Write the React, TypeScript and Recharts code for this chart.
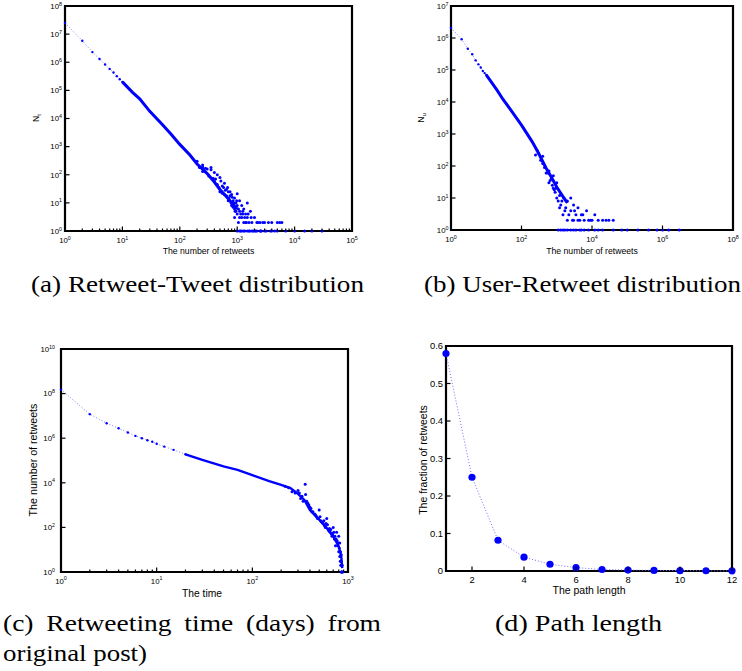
import React from 'react';
import { ComposedChart, Line, Scatter, XAxis, YAxis, ReferenceArea } from 'recharts';

const BLUE = '#0000ff';
const DOTTED = '#6f6fff';
const SANS = '"Liberation Sans", Arial, Helvetica, sans-serif';
const SERIF = '"Liberation Serif", "Times New Roman", serif';

// (a) Retweet-Tweet distribution
const aSparseX = [1, 2, 3, 4, 5, 6, 7, 8, 9, 10];
const aSparseY = [2.5e7, 5.8e6, 2.3e6, 1.3e6, 8.3e5, 5.8e5, 4.3e5, 3.2e5, 2.5e5, 2.0e5];
const aBandX = [10, 15, 20, 30, 50, 70, 100, 150, 200, 300, 400, 500, 700, 1000];
const aBandY = [2.0e5, 8.5e4, 5.0e4, 1.8e4, 6.0e3, 2.8e3, 1.2e3, 500, 240, 110, 55, 30, 14, 6];
const aCloudX = [250, 250, 300, 350, 400, 400, 450, 500, 500, 550, 600, 600, 650, 700, 700, 750, 800, 800, 850, 900, 900, 900, 950, 950,
  1000, 1000, 1000, 1050, 1100, 1100, 1100, 1150, 1200, 1200, 1250, 1300, 1300, 1350, 1400, 1400, 1500, 1500, 1600, 1700, 1800,
  2000, 2200, 2500, 2800, 3000, 3500, 4000, 5000, 5500, 1200, 1500, 2000, 2500, 3000, 4000, 5000, 7000, 10000, 15000, 20000, 30000,
  200, 220, 250, 280, 320, 350, 380, 420, 450, 480, 520, 550, 580, 620, 650, 680, 720, 750, 780, 820, 850, 880, 920, 980,
  1050, 1150, 1250, 1350, 1450, 1550, 1650, 1750, 1900, 2100, 2300, 2600, 3200, 3800, 4500, 6000, 1000, 1100, 1300, 1600, 1800, 2200, 2600];
const aCloudY = [190, 130, 160, 150, 60, 120, 45, 80, 25, 40, 20, 50, 30, 12, 25, 18, 8, 20, 12, 6, 15, 3, 10, 5,
  4, 8, 21, 2, 5, 12, 3, 1, 3, 8, 4, 6, 2, 1, 2, 4, 10, 3, 2, 5, 2,
  3, 2, 2, 2, 2, 2, 2, 2, 2, 1, 1, 1, 1, 1, 1, 1, 1, 1, 1, 1, 1,
  300, 180, 220, 170, 90, 180, 75, 70, 100, 35, 60, 22, 35, 28, 18, 35, 15, 25, 10, 16, 7, 10, 5, 12,
  6, 4, 5, 3, 2, 4, 1, 3, 1, 1, 2, 1, 1, 1, 1, 2, 1, 1, 1, 1, 1, 1, 1];
const aXMajor = [1, 10, 100, 1000, 10000, 100000];
const aYMajor = [1, 10, 100, 1e3, 1e4, 1e5, 1e6, 1e7, 1e8];

// (b) User-Retweet distribution
const bSparseX = [1, 2, 3, 4, 5, 6, 7, 8, 9, 10];
const bSparseY = [2.1e6, 9.1e5, 4.6e5, 3.1e5, 2.0e5, 1.5e5, 1.2e5, 9.3e4, 8.0e4, 7.0e4];
const bBandX = [10, 20, 30, 50, 100, 200, 300, 500, 700, 1000, 1500, 2000];
const bBandY = [7.0e4, 2.4e4, 1.2e4, 5.6e3, 1.9e3, 580, 260, 85, 45, 22, 11, 7];
const bCloudX = [300, 400, 400, 500, 600, 600, 700, 800, 800, 900, 1000, 1000, 1200, 1200, 1400, 1500, 1600, 1800, 2000, 2000,
  2500, 2500, 3000, 3000, 3500, 4000, 4000, 5000, 6000, 7000, 8000, 10000, 12000, 15000, 20000, 25000, 30000, 40000,
  1500, 2000, 3000, 5000, 8000, 12000, 20000, 40000, 70000, 1e5, 2e5, 4e5, 7e5, 1e6, 1.5e6, 3e6,
  250, 280, 350, 450, 550, 650, 750, 850, 950, 1100, 1300, 1700, 2200, 2800, 3200, 4500, 5500, 9000,
  1100, 1300, 1700, 2500, 3500, 4500, 6000, 15000];
const bCloudY = [250, 120, 200, 60, 70, 30, 40, 20, 50, 15, 10, 30, 12, 5, 8, 3, 10, 5, 2, 8,
  4, 10, 2, 6, 3, 2, 5, 3, 2, 4, 2, 2, 3, 2, 2, 2, 2, 2,
  1, 1, 1, 1, 1, 1, 1, 1, 1, 1, 1, 1, 1, 1, 1, 1,
  220, 300, 150, 90, 60, 35, 25, 18, 20, 8, 6, 4, 3, 2, 4, 2, 3, 2,
  1, 1, 1, 1, 1, 1, 1, 1];
const bXMajor = [1, 100, 1e4, 1e6, 1e8];
const bYMajor = [1, 10, 100, 1e3, 1e4, 1e5, 1e6, 1e7];

// (c) Retweeting time (days) from original post
const cSparseX = [1, 2, 3, 4, 5, 6, 7, 8, 9, 10, 12, 15, 20];
const cSparseY = [1.5e8, 1.2e7, 4.7e6, 2.8e6, 1.8e6, 1.27e6, 1.0e6, 8.1e5, 6.9e5, 5.6e5, 4.2e5, 3.0e5, 1.9e5];
const cBandX = [20, 30, 50, 70, 100, 150, 200, 250, 300, 350, 400, 450, 500, 600, 700, 800, 850, 870];
const cBandY = [1.9e5, 1.07e5, 5.4e4, 3.8e4, 2.2e4, 1.2e4, 8.1e3, 5.8e3, 3.2e3, 1.7e3, 600, 350, 220, 93, 40, 14, 5, 1.5];
const cCloudX = [300, 320, 340, 357, 360, 380, 400, 420, 450, 480, 500, 520, 550, 580, 600, 620, 650, 680, 700, 720,
  740, 760, 780, 800, 800, 820, 820, 830, 840, 850, 850, 860, 870, 880,
  220, 240, 260, 280, 310, 330, 370, 390, 410, 430, 460, 470, 490, 510, 530, 560, 570, 590, 610, 630, 640, 660, 670, 690,
  710, 730, 750, 770, 790, 810, 835, 845, 855, 865];
const cCloudY = [4500, 2000, 1500, 8700, 3000, 1200, 800, 500, 400, 250, 600, 200, 150, 100, 250, 80, 60, 40, 100, 30,
  15, 60, 15, 8, 40, 5, 20, 3, 2, 1, 6, 1, 2, 1,
  7000, 6000, 4000, 3500, 3500, 2500, 1500, 1000, 700, 500, 350, 300, 250, 300, 180, 200, 120, 150, 130, 70, 90, 80, 50, 50,
  60, 40, 30, 25, 20, 12, 8, 3, 2, 1];
const cXMajor = [1, 10, 100, 1000];
const cYMajor = [1, 100, 1e4, 1e6, 1e8, 1e10];

// (d) Path length
const dX = [1, 2, 3, 4, 5, 6, 7, 8, 9, 10, 11, 12];
const dY = [0.58, 0.25, 0.082, 0.037, 0.018, 0.009, 0.004, 0.0025, 0.0015, 0.001, 0.0006, 0.0004];
const dXTicks = [2, 4, 6, 8, 10, 12];
const dYTicks = [0, 0.1, 0.2, 0.3, 0.4, 0.5, 0.6];

type Pt = { x: number; y: number };
const zip = (xs: number[], ys: number[]): Pt[] => xs.map((x, i) => ({ x, y: ys[i] }));
const withMinors = (majors: number[]) =>
  majors.concat(majors.slice(0, -1).flatMap((m) => [2, 3, 4, 5, 6, 7, 8, 9].map((k) => k * m)));

// inward MATLAB-style tick marks, labels only on the bottom/left axes
function Tick(props: any) {
  const { x, y, payload, side, log, labels, fs, gap } = props;
  const v = payload.value;
  const e = log ? Math.log10(v) : 0;
  const major = !log || Math.abs(e - Math.round(e)) < 1e-6;
  const len = major ? 4.5 : 2.5;
  const show = labels && labels.some((l: number) => Math.abs(l - v) < 1e-9 * Math.max(1, l));
  const ls = { stroke: '#000', strokeWidth: 1.2 };
  let seg;
  if (side === 'bottom') seg = <line x1={x} x2={x} y1={y} y2={y - len} {...ls} />;
  else if (side === 'top') seg = <line x1={x} x2={x} y1={y} y2={y + len} {...ls} />;
  else if (side === 'left') seg = <line x1={x} x2={x + len} y1={y} y2={y} {...ls} />;
  else seg = <line x1={x} x2={x - len} y1={y} y2={y} {...ls} />;
  const body = log ? (
    <>
      <tspan>10</tspan>
      <tspan dy={-fs * 0.42} fontSize={fs * 0.68}>{Math.round(e)}</tspan>
    </>
  ) : (
    String(v)
  );
  return (
    <g>
      {seg}
      {show && side === 'bottom' && (
        <text x={x} y={y + gap} textAnchor="middle" fontSize={fs} fontFamily={SANS} fill="#000">{body}</text>
      )}
      {show && side === 'left' && (
        <text x={x - gap} y={y + fs * 0.36} textAnchor="end" fontSize={fs} fontFamily={SANS} fill="#000">{body}</text>
      )}
    </g>
  );
}

function Frame(p: any) {
  const common = { type: 'number' as const, interval: 0 as const, tickSize: 0, tickMargin: 0, tickLine: false, axisLine: false };
  const scale = p.log ? 'log' : 'linear';
  return [
    <XAxis key="xb" xAxisId="b" {...common} dataKey="x" scale={scale} domain={p.xDomain} ticks={p.xTicks} height={p.xH}
      tick={<Tick side="bottom" log={p.log} labels={p.xLabels} fs={p.fs} gap={p.xGap} />} />,
    <XAxis key="xt" xAxisId="t" {...common} dataKey="x" orientation="top" scale={scale} domain={p.xDomain} ticks={p.xTicks} height={0}
      tick={<Tick side="top" log={p.log} />} />,
    <YAxis key="yl" yAxisId="l" {...common} dataKey="y" scale={scale} domain={p.yDomain} ticks={p.yTicks} width={p.yW}
      tick={<Tick side="left" log={p.log} labels={p.yLabels} fs={p.fs} gap={p.yGap} />} />,
    <YAxis key="yr" yAxisId="r" {...common} dataKey="y" orientation="right" scale={scale} domain={p.yDomain} ticks={p.yTicks} width={0}
      tick={<Tick side="right" log={p.log} />} />,
    <ReferenceArea key="box" xAxisId="b" yAxisId="l" x1={p.xDomain[0]} x2={p.xDomain[1]} y1={p.yDomain[0]} y2={p.yDomain[1]}
      fill="none" fillOpacity={0} stroke="#000" strokeWidth={2.2} ifOverflow="visible" />,
  ];
}

const smallDot = (r: number) => (s: any) => <circle cx={s.cx} cy={s.cy} r={r} fill={BLUE} />;

function LogPanel(p: any) {
  return (
    <ComposedChart width={p.width} height={p.height} margin={p.margin}>
      {Frame({ ...p, log: true })}
      <Line xAxisId="b" yAxisId="l" data={p.band} dataKey="y" type="linear" stroke={BLUE} strokeWidth={p.bandW}
        dot={false} activeDot={false} isAnimationActive={false} />
      <Line xAxisId="b" yAxisId="l" data={p.sparse} dataKey="y" type="linear" stroke={DOTTED} strokeWidth={0.9}
        strokeDasharray="1 2" dot={{ r: 1.2, fill: BLUE, stroke: 'none', strokeDasharray: '0' }} activeDot={false}
        isAnimationActive={false} />
      <Scatter xAxisId="t" yAxisId="r" data={p.cloud} dataKey="y" shape={smallDot(1.5)} isAnimationActive={false} />
    </ComposedChart>
  );
}

function PathPanel() {
  const pts = zip(dX, dY);
  return (
    <ComposedChart width={371} height={280} margin={{ top: 26, right: 10, bottom: 0, left: 0 }}>
      {Frame({ log: false, xDomain: [1, 12], xTicks: dXTicks, xLabels: dXTicks, xH: 29, yDomain: [0, 0.6], yTicks: dYTicks,
        yLabels: dYTicks, yW: 75, fs: 9.4, xGap: 12, yGap: 3 })}
      <Line xAxisId="b" yAxisId="l" data={pts} dataKey="y" type="linear" stroke={DOTTED} strokeWidth={1}
        strokeDasharray="1 2" dot={false} activeDot={false} isAnimationActive={false} />
      <Scatter xAxisId="t" yAxisId="r" data={pts} dataKey="y" shape={smallDot(3.6)} isAnimationActive={false} />
    </ComposedChart>
  );
}

function Caption({ x, y, w, text, ws = 0 }: { x: number; y: number; w: number; text: string; ws?: number }) {
  return (
    <text x={x} y={y} textLength={w} lengthAdjust="spacingAndGlyphs" fontFamily={SERIF} fontSize={23} fill="#000"
      style={{ wordSpacing: ws }}>{text}</text>
  );
}

export default function App() {
  return (
    <div style={{ position: 'absolute', left: 0, top: 0, width: 742, height: 671, background: '#fff', overflow: 'hidden' }}>
      <div style={{ position: 'absolute', left: 0, top: 0 }}>
        <LogPanel width={371} height={262} margin={{ top: 6, right: 19, bottom: 0, left: 0 }} xH={31} yW={65}
          xDomain={[1, 1e5]} xTicks={withMinors(aXMajor)} xLabels={aXMajor} yDomain={[1, 1e8]} yTicks={aYMajor} yLabels={aYMajor}
          fs={7.8} xGap={12.3} yGap={3} bandW={3}
          sparse={zip(aSparseX, aSparseY)} band={zip(aBandX, aBandY)} cloud={zip(aCloudX, aCloudY)} />
      </div>
      <div style={{ position: 'absolute', left: 371, top: 0 }}>
        <LogPanel width={371} height={262} margin={{ top: 6, right: 9, bottom: 0, left: 0 }} xH={32} yW={80}
          xDomain={[1, 1e8]} xTicks={bXMajor} xLabels={bXMajor} yDomain={[1, 1e7]} yTicks={bYMajor} yLabels={bYMajor}
          fs={7.8} xGap={12.3} yGap={2.5} bandW={3}
          sparse={zip(bSparseX, bSparseY)} band={zip(bBandX, bBandY)} cloud={zip(bCloudX, bCloudY)} />
      </div>
      <div style={{ position: 'absolute', left: 0, top: 320 }}>
        <LogPanel width={371} height={280} margin={{ top: 29, right: 23, bottom: 0, left: 0 }} xH={28} yW={61}
          xDomain={[1, 1e3]} xTicks={withMinors(cXMajor)} xLabels={cXMajor} yDomain={[1, 1e10]} yTicks={cYMajor} yLabels={cYMajor}
          fs={7.8} xGap={11.7} yGap={6} bandW={2.4}
          sparse={zip(cSparseX, cSparseY)} band={zip(cBandX, cBandY)} cloud={zip(cCloudX, cCloudY)} />
      </div>
      <div style={{ position: 'absolute', left: 371, top: 320 }}>
        <PathPanel />
      </div>
      <svg width={742} height={671} style={{ position: 'absolute', left: 0, top: 0, pointerEvents: 'none' }}>
        <g fontFamily={SANS} fill="#000">
          <text x={208.5} y={254} textAnchor="middle" fontSize={8.7}>The number of retweets</text>
          <text x={592} y={254} textAnchor="middle" fontSize={8.7}>The number of retweets</text>
          <text x={202} y={597} textAnchor="middle" fontSize={10.3}>The time</text>
          <text x={589} y={594} textAnchor="middle" fontSize={10.5}>The path length</text>
          <text transform="translate(39.3,118) rotate(-90)" textAnchor="middle" fontSize={8.7}>
            N<tspan dy={2} fontSize={6}>t</tspan>
          </text>
          <text transform="translate(424.3,118) rotate(-90)" textAnchor="middle" fontSize={8.7}>
            N<tspan dy={2} fontSize={6}>u</tspan>
          </text>
          <text transform="translate(36.5,460) rotate(-90)" textAnchor="middle" fontSize={10.7}>The number of retweets</text>
          <text transform="translate(426.5,460) rotate(-90)" textAnchor="middle" fontSize={10.5}>The fraction of retweets</text>
        </g>
        <Caption x={31} y={292} w={333} text="(a) Retweet-Tweet distribution" />
        <Caption x={424} y={292} w={317} text="(b) User-Retweet distribution" />
        <Caption x={3} y={631} w={378} ws={5} text="(c) Retweeting time (days) from" />
        <Caption x={3} y={661} w={144} text="original post)" />
        <Caption x={495} y={631} w={167} text="(d) Path length" />
      </svg>
    </div>
  );
}
